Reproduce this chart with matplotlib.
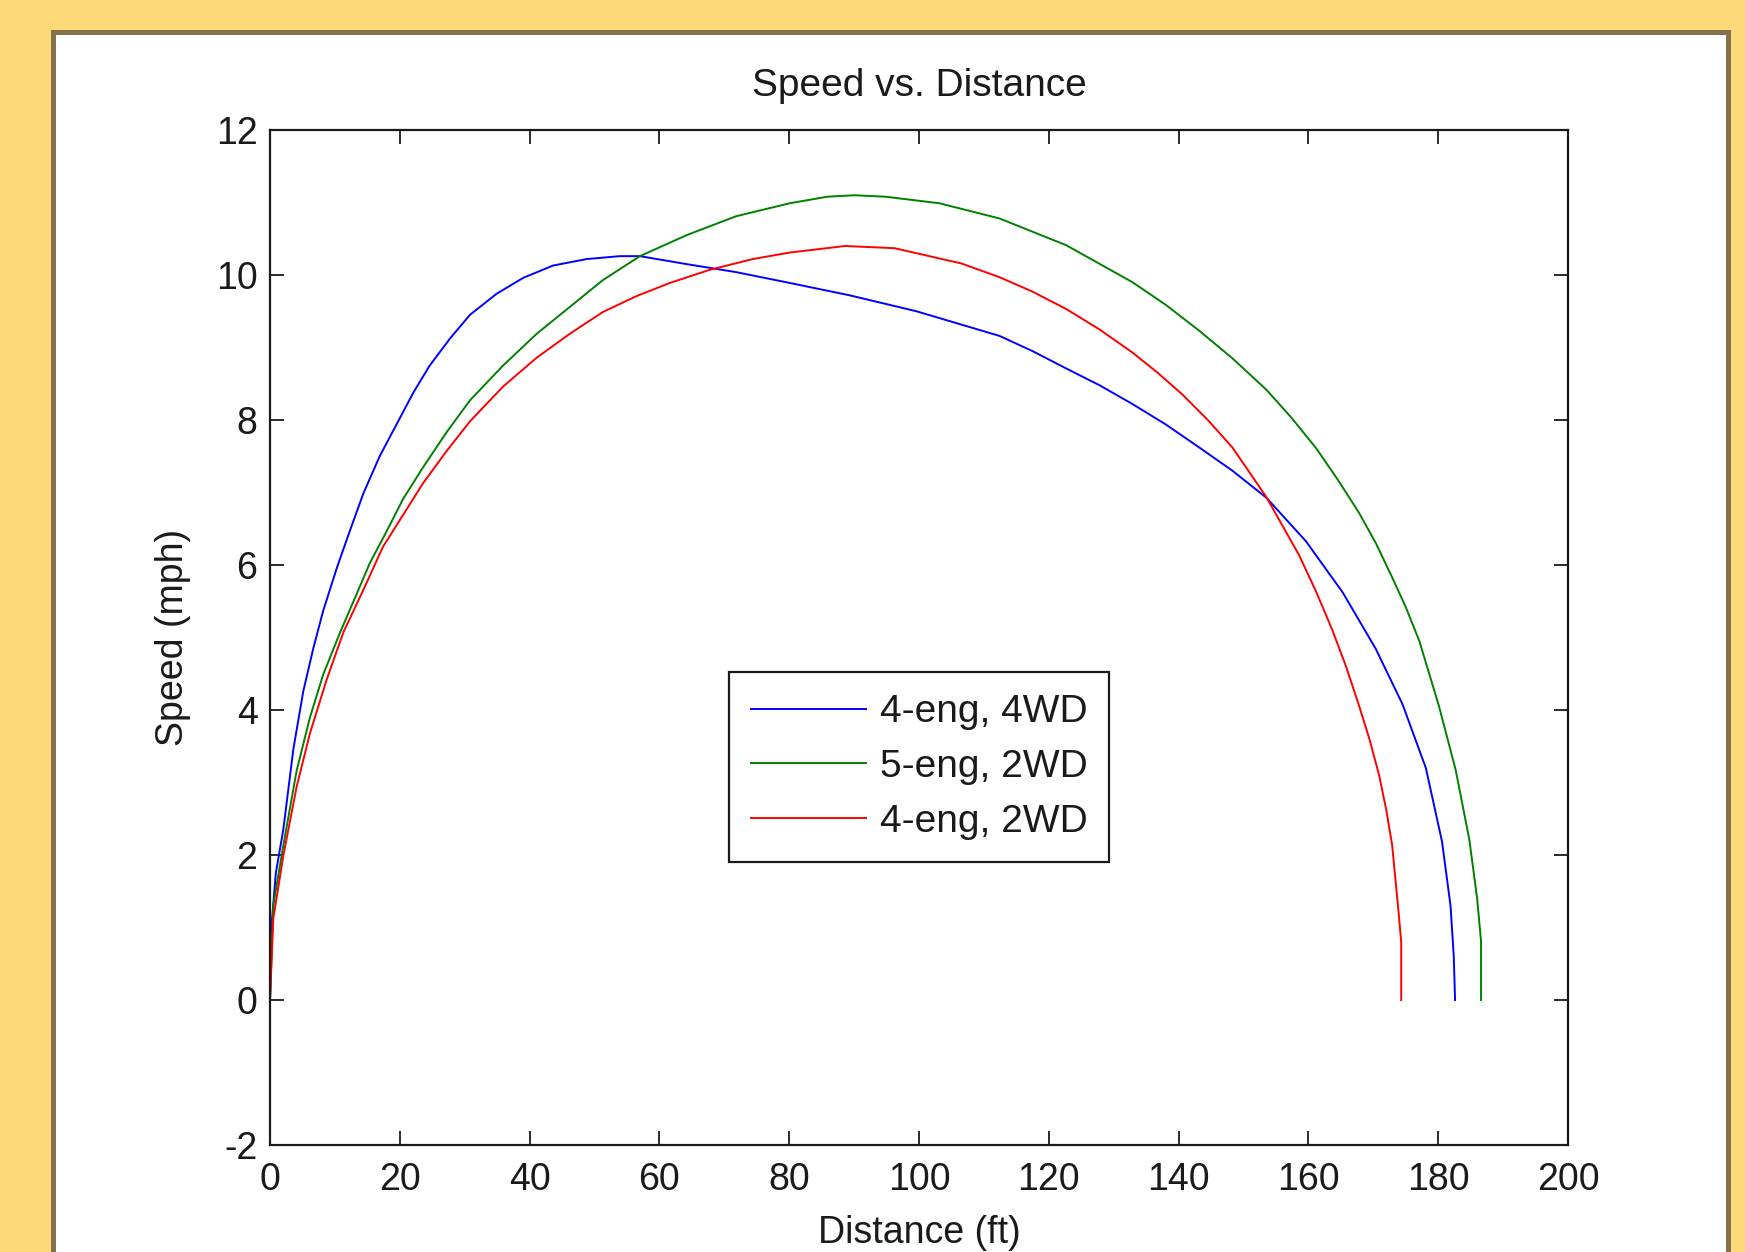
"""Speed vs. distance curves for three drive configurations."""

import matplotlib

matplotlib.use("Agg")

import matplotlib.pyplot as plt
from matplotlib.patches import Rectangle

SERIES_LABELS = ["4-eng, 4WD", "5-eng, 2WD", "4-eng, 2WD"]
SERIES_COLORS = ["#0000ff", "#008000", "#ff0000"]

DIST_4ENG_4WD = [
    0, 0.3, 0.9, 2.05, 3.6, 5.13, 6.67, 8.2, 10.3, 12.3,
    14.4, 16.9, 19.5, 22.1, 24.6, 27.7, 30.8, 34.9, 39.0, 43.6,
    48.8, 53.9, 57.0, 64.2, 71.8, 80.1, 89.3, 99.6, 112.4, 117.5,
    122.7, 127.8, 132.9, 138.0, 143.2, 148.3, 153.5, 159.6, 165.3, 170.4,
    174.5, 178.1, 180.6, 181.9, 182.4, 182.6,
]
SPEED_4ENG_4WD = [
    0, 1.1, 1.75, 2.35, 3.46, 4.26, 4.85, 5.37, 5.96, 6.47,
    6.99, 7.50, 7.94, 8.38, 8.75, 9.12, 9.45, 9.74, 9.96, 10.13,
    10.22, 10.26, 10.26, 10.15, 10.04, 9.89, 9.72, 9.50, 9.16, 8.95,
    8.71, 8.48, 8.22, 7.94, 7.62, 7.30, 6.93, 6.33, 5.62, 4.84,
    4.08, 3.20, 2.18, 1.30, 0.6, 0,
]

DIST_5ENG_2WD = [
    0, 0.5, 2.05, 4.1, 6.16, 8.2, 10.8, 13.3, 15.4, 18.0,
    20.5, 23.6, 27.2, 30.8, 35.9, 41.1, 46.2, 51.3, 57.0, 64.2,
    71.8, 80.1, 85.9, 90.0, 94.8, 103.1, 112.4, 122.7, 132.9, 138.0,
    143.2, 148.3, 153.5, 157.4, 161.2, 164.5, 167.8, 170.4, 172.9, 175.0,
    177.1, 180.1, 182.7, 184.8, 186.0, 186.6, 186.6,
]
SPEED_5ENG_2WD = [
    0, 1.3, 2.13, 3.16, 3.90, 4.49, 5.07, 5.59, 6.03, 6.47,
    6.91, 7.35, 7.83, 8.27, 8.75, 9.19, 9.56, 9.93, 10.26, 10.55,
    10.81, 10.99, 11.08, 11.10, 11.08, 10.99, 10.78, 10.41, 9.90, 9.59,
    9.23, 8.85, 8.42, 8.03, 7.61, 7.18, 6.72, 6.30, 5.83, 5.42,
    4.95, 4.06, 3.17, 2.21, 1.40, 0.81, 0,
]

DIST_4ENG_2WD = [
    0, 0.5, 2.05, 4.1, 6.16, 8.7, 11.3, 14.4, 17.4, 20.5,
    23.6, 27.2, 30.8, 35.9, 41.1, 46.2, 51.3, 56.5, 61.6, 67.7,
    74.4, 80.1, 88.6, 96.2, 106.5, 112.4, 117.5, 122.7, 127.8, 132.9,
    136.8, 140.6, 144.5, 148.3, 153.5, 158.6, 161.2, 163.7, 165.8, 167.8,
    169.4, 170.9, 172.0, 172.9, 173.8, 174.3, 174.3,
]
SPEED_4ENG_2WD = [
    0, 1.12, 1.99, 2.94, 3.68, 4.41, 5.07, 5.66, 6.25, 6.69,
    7.13, 7.57, 7.98, 8.46, 8.86, 9.19, 9.49, 9.71, 9.89, 10.07,
    10.22, 10.31, 10.40, 10.37, 10.16, 9.97, 9.77, 9.53, 9.25, 8.93,
    8.65, 8.35, 8.00, 7.62, 6.94, 6.13, 5.63, 5.10, 4.60, 4.06,
    3.60, 3.10, 2.62, 2.14, 1.3, 0.8, 0,
]

X_TICKS = list(range(0, 201, 20))
Y_TICKS = list(range(-2, 13, 2))

FONT_SIZE = 27
TEXT_COLOR = "#1a1a1a"


def plot_speed_distance(output_path: str = "out.png") -> None:
    """Draw the MATLAB-style speed/distance figure and save it."""
    plt.rcParams["font.family"] = ["Liberation Sans", "DejaVu Sans"]
    plt.rcParams["axes.unicode_minus"] = False

    figure = plt.figure(figsize=(17.45, 12.52), dpi=100)
    figure.patch.set_facecolor("#fdd978")

    # white panel with a brown frame, running off the bottom edge
    panel = Rectangle(
        (52.5 / 1745, -0.05),
        (1727.5 - 52.5) / 1745,
        1.0 - 32 / 1252 + 0.05,
        transform=figure.transFigure,
        facecolor="white",
        edgecolor="#85704c",
        linewidth=3.6,
        zorder=-1,
    )
    figure.patches.append(panel)

    axis = figure.add_axes([270 / 1745, 1 - 1145 / 1252, 1298 / 1745, 1015 / 1252])
    axis.set_zorder(1)

    all_dist = [DIST_4ENG_4WD, DIST_5ENG_2WD, DIST_4ENG_2WD]
    all_speed = [SPEED_4ENG_4WD, SPEED_5ENG_2WD, SPEED_4ENG_2WD]
    for dist, speed, label, color in zip(all_dist, all_speed, SERIES_LABELS, SERIES_COLORS):
        axis.plot(dist, speed, color=color, linewidth=1.4, label=label)

    axis.set_xlim(0, 200)
    axis.set_ylim(-2, 12)
    axis.set_xticks(X_TICKS)
    axis.set_yticks(Y_TICKS)
    axis.tick_params(
        direction="in",
        length=10,
        width=1.3,
        top=True,
        right=True,
        labelsize=FONT_SIZE,
        labelcolor=TEXT_COLOR,
        color=TEXT_COLOR,
    )
    axis.tick_params(axis="x", pad=12)
    axis.tick_params(axis="y", pad=9)
    for spine in axis.spines.values():
        spine.set_linewidth(1.6)
        spine.set_color(TEXT_COLOR)

    axis.text(
        0.5,
        1 + 34 / 1015,
        "Speed vs. Distance",
        transform=axis.transAxes,
        ha="center",
        va="baseline",
        fontsize=28,
        color=TEXT_COLOR,
    )
    axis.set_xlabel("Distance (ft)", fontsize=FONT_SIZE, color=TEXT_COLOR)
    axis.set_ylabel("Speed (mph)", fontsize=FONT_SIZE, color=TEXT_COLOR)
    axis.xaxis.set_label_coords(0.5, -0.069)
    axis.yaxis.set_label_coords(-0.061, 0.5)

    legend = axis.legend(
        loc="upper left",
        bbox_to_anchor=(459 / 1298, 473 / 1015),
        borderaxespad=0,
        fontsize=28,
        handlelength=2.95,
        handletextpad=0.35,
        labelspacing=0.48,
        borderpad=0.57,
        fancybox=False,
        framealpha=1.0,
        edgecolor=TEXT_COLOR,
    )
    legend.get_frame().set_linewidth(1.6)
    for text in legend.get_texts():
        text.set_color(TEXT_COLOR)

    figure.savefig(output_path, dpi=100, facecolor=figure.get_facecolor())
    plt.close(figure)


if __name__ == "__main__":
    plot_speed_distance()
